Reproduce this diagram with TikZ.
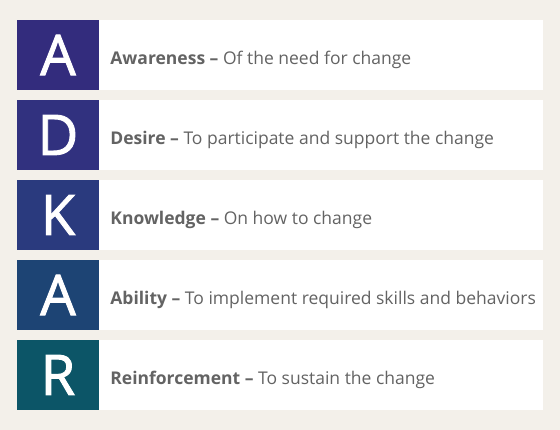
\documentclass[tikz,border=0pt]{standalone}
\usepackage{fontspec}
\setmainfont{Open Sans}
\newfontfamily\letterfont[FakeBold=1.6]{Open Sans}
\definecolor{bgbeige}{HTML}{F3F0EA}
\definecolor{txtgray}{HTML}{636363}
\definecolor{cA}{HTML}{332C7D}
\definecolor{cD}{HTML}{31317F}
\definecolor{cK}{HTML}{2A3A7E}
\definecolor{cAb}{HTML}{1D4474}
\definecolor{cR}{HTML}{0C5567}
\tikzset{
  letterbox/.style={fill=#1, minimum width=82pt, minimum height=70pt, inner sep=0pt,
    text=white, font=\letterfont\fontsize{56}{60}\selectfont},
  textbox/.style={fill=white, minimum width=444pt, minimum height=70pt, inner sep=0pt},
  rowtext/.style={text=txtgray, font=\fontsize{17.5}{20}\selectfont, inner sep=0pt, anchor=base west}
}
\begin{document}
\begin{tikzpicture}[x=1pt, y=-1pt]
  \fill[bgbeige] (0,0) rectangle (560,430);
  \useasboundingbox (0,0) rectangle (560,430);
  \foreach \i/\l/\c/\w/\t in {
      1/A/cA/Awareness/Of the need for change,
      2/D/cD/Desire/To participate and support the change,
      3/K/cK/Knowledge/On how to change,
      4/A/cAb/Ability/To implement required skills and behaviors,
      5/R/cR/Reinforcement/To sustain the change} {
    \node[letterbox=\c] (letter\i) at (58, {55+80*(\i-1)}) {\l};
    \node[textbox, anchor=west] (box\i) at (letter\i.east) {};
    \node[rowtext] (label\i) at ([xshift=11pt, yshift=-9.3pt]box\i.west) {\textbf{\w~–} \t};
  }
\end{tikzpicture}
\end{document}
